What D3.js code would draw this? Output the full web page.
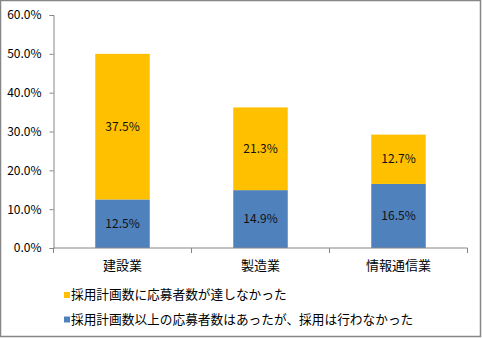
<!DOCTYPE html>
<html><head><meta charset="utf-8">
<script src="https://cdn.jsdelivr.net/npm/d3@7"></script>
<style>
html,body{margin:0;padding:0;background:#fff;}
svg{display:block;}
text{font-family:"Noto Sans CJK JP","DejaVu Sans",sans-serif;}
</style></head>
<body>
<script>
const categories = ["建設業", "製造業", "情報通信業"];
const seriesNames = ["採用計画数以上の応募者数はあったが、採用は行わなかった", "採用計画数に応募者数が達しなかった"];
const blueValues = [12.5, 14.9, 16.5];
const orangeValues = [37.5, 21.3, 12.7];
const yTicks = [0, 10, 20, 30, 40, 50, 60];
const colors = ["#4F81BD", "#FFC000"];

const W = 482, H = 338;
const svg = d3.select("body").append("svg").attr("width", W).attr("height", H);
svg.append("rect").attr("x", 0.5).attr("y", 0.5).attr("width", W - 2).attr("height", H - 2)
  .attr("fill", "#fff").attr("stroke", "#868686").attr("stroke-width", 1.5);

const pLeft = 53.5, pRight = 467.5, pTop = 15, pBottom = 248;
const x = d3.scaleBand().domain(categories).range([pLeft, pRight]).paddingInner(0.605).paddingOuter(0.3025);
const y = d3.scaleLinear().domain([0, 60]).range([pBottom, pTop]);

const data = categories.map((c, i) => ({cat: c, blue: blueValues[i], orange: orangeValues[i]}));
const stack = d3.stack().keys(["blue", "orange"])(data);

const g = svg.append("g");
stack.forEach((layer, li) => {
  g.selectAll(null).data(layer).enter().append("rect")
    .attr("x", d => x(d.data.cat))
    .attr("width", x.bandwidth())
    .attr("y", d => y(d[1]))
    .attr("height", d => y(d[0]) - y(d[1]))
    .attr("fill", colors[li]);
  g.selectAll(null).data(layer).enter().append("text")
    .attr("x", d => x(d.data.cat) + x.bandwidth() / 2)
    .attr("y", d => (y(d[0]) + y(d[1])) / 2)
    .attr("dy", "0.35em")
    .attr("text-anchor", "middle")
    .attr("font-size", 12)
    .attr("fill", "#111")
    .text(d => (d[1] - d[0]).toFixed(1) + "%");
});

// y axis
const ya = svg.append("g").attr("transform", `translate(${pLeft},0)`)
  .call(d3.axisLeft(y).tickValues(yTicks).tickSize(4).tickPadding(8).tickFormat(d => d.toFixed(1) + "%"));
ya.select(".domain").attr("stroke", "#868686");
ya.selectAll(".tick line").attr("stroke", "#868686");
ya.selectAll("text").attr("font-size", 12).attr("fill", "#000")
  .style("font-family", "'Noto Sans CJK JP',sans-serif");

// x axis
const xa = svg.append("g").attr("transform", `translate(0,${pBottom})`);
xa.append("line").attr("x1", pLeft).attr("x2", pRight).attr("y1", 0).attr("y2", 0).attr("stroke", "#868686");
const boundaries = [pLeft].concat(categories.map(c => x(c) + x.bandwidth() + x.step() * x.paddingInner() / 2));
boundaries[boundaries.length - 1] = pRight;
xa.selectAll(null).data(boundaries).enter().append("line")
  .attr("x1", d => d).attr("x2", d => d).attr("y1", 0).attr("y2", 5).attr("stroke", "#868686");
xa.selectAll(null).data(categories).enter().append("text")
  .attr("x", d => x(d) + x.bandwidth() / 2)
  .attr("y", 17).attr("dy", "0.35em").attr("text-anchor", "middle").attr("font-size", 13).attr("fill", "#000")
  .text(d => d);

// legend
const legendItems = [{name: seriesNames[1], color: colors[1]}, {name: seriesNames[0], color: colors[0]}];
const lg = svg.append("g");
legendItems.forEach((it, i) => {
  const yy = 295 + i * 24.5;
  lg.append("rect").attr("x", 64).attr("y", yy - 3).attr("width", 6).attr("height", 6).attr("fill", it.color);
  lg.append("text").attr("x", 71).attr("y", yy).attr("dy", "0.35em").attr("font-size", 12.7).attr("fill", "#000").text(it.name);
});
</script>
</body></html>
